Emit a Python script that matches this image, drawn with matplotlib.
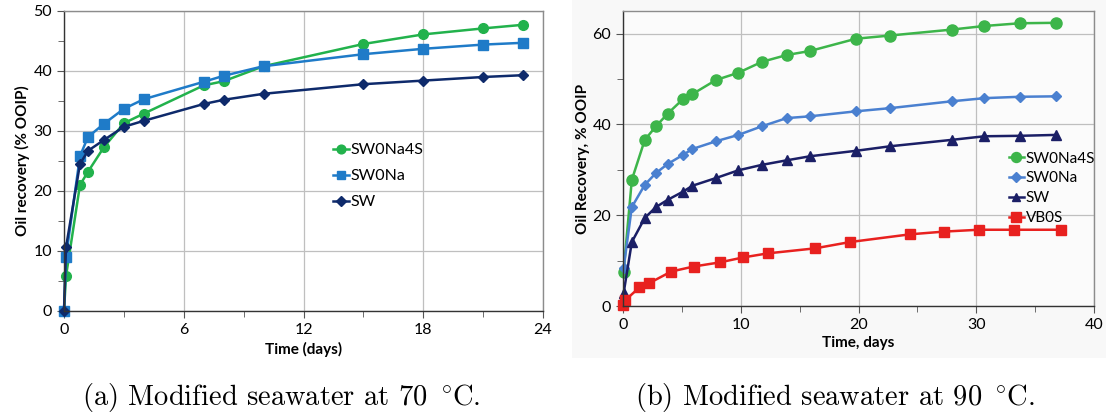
import matplotlib
matplotlib.use("Agg")
import matplotlib.pyplot as plt
from matplotlib.patches import Rectangle
from matplotlib.ticker import MultipleLocator

plt.rcParams['font.family'] = ['Lato', 'DejaVu Sans']
plt.rcParams['mathtext.fontset'] = 'cm'

# (a) 70 C
days_a = [0, 0.1, 0.8, 1.2, 2, 3, 4, 7, 8, 10, 15, 18, 21, 23]
sw0na4s_a = [0, 5.8, 21.0, 23.2, 27.3, 31.3, 32.9, 37.6, 38.3, 40.8, 44.5, 46.1, 47.1, 47.7]
sw0na_a = [0, 9.0, 25.8, 29.0, 31.2, 33.7, 35.3, 38.2, 39.2, 40.8, 42.8, 43.7, 44.4, 44.7]
sw_a = [0, 10.6, 24.5, 26.7, 28.5, 30.7, 31.7, 34.5, 35.2, 36.2, 37.8, 38.4, 39.0, 39.3]

# (b) 90 C
days_b = [0.05, 0.75, 1.85, 2.8, 3.8, 5.1, 5.9, 7.9, 9.8, 11.8, 13.9, 15.9, 19.8, 22.7, 27.9, 30.7, 33.7, 36.8]
sw0na4s_b = [7.6, 27.8, 36.6, 39.6, 42.4, 45.6, 46.7, 49.8, 51.4, 53.8, 55.3, 56.2, 58.9, 59.6, 60.9, 61.7, 62.3, 62.4]
sw0na_b = [8.3, 21.8, 26.7, 29.3, 31.3, 33.3, 34.6, 36.3, 37.7, 39.6, 41.4, 41.8, 42.9, 43.6, 45.1, 45.8, 46.1, 46.2]
sw_b = [2.8, 14.1, 19.4, 21.8, 23.4, 25.2, 26.5, 28.2, 29.9, 31.1, 32.1, 33.0, 34.2, 35.2, 36.6, 37.4, 37.5, 37.7]
days_vb = [0, 0.2, 1.4, 2.2, 4.1, 6.0, 8.2, 10.2, 12.3, 16.3, 19.3, 24.4, 27.3, 30.2, 33.2, 37.2]
vb0s_b = [0.2, 1.3, 4.1, 5.0, 7.6, 8.7, 9.6, 10.7, 11.6, 12.7, 14.1, 15.8, 16.4, 16.8, 16.8, 16.8]

W, H = 1106, 417
fig = plt.figure(figsize=(W / 100, H / 100), dpi=100)
# faint grey backdrop behind the right-hand chart
fig.patches.append(Rectangle((572 / W, 1 - 358 / H), 1 - 572 / W, 358 / H,
                             transform=fig.transFigure, facecolor='#f8f8f8', edgecolor='none', zorder=-5))
ax1 = fig.add_axes([64 / W, (H - 311) / H, (543 - 64) / W, 300 / H])
ax2 = fig.add_axes([623 / W, (H - 306) / H, (1094 - 623) / W, 295 / H])


def style(ax):
    ax.grid(True, which='major', color='#bfbfbf', lw=0.9)
    ax.set_axisbelow(True)
    for s in ('top', 'right'):
        ax.spines[s].set_color('#8c8c8c')
    for s in ('left', 'bottom'):
        ax.spines[s].set_color('#333333')
    for s in ax.spines.values():
        s.set_linewidth(1.0)
    ax.tick_params(which='both', direction='out', color='#555555', labelsize=11.5)
    ax.tick_params(which='major', length=5)
    ax.tick_params(which='minor', length=4)


# left panel
ax1.plot(days_a, sw0na4s_a, '-o', color='#22b24c', ms=7, lw=1.8, label='SW0Na4S', clip_on=False)
ax1.plot(days_a, sw0na_a, '-s', color='#1f7bc8', ms=7, lw=1.8, label='SW0Na', clip_on=False)
ax1.plot(days_a, sw_a, '-D', color='#0e2a6b', ms=5.5, lw=1.8, label='SW', clip_on=False)
ax1.set_xlim(0, 24)
ax1.set_ylim(0, 50)
ax1.xaxis.set_major_locator(MultipleLocator(6))
ax1.xaxis.set_minor_locator(MultipleLocator(3))
ax1.yaxis.set_major_locator(MultipleLocator(10))
ax1.yaxis.set_minor_locator(MultipleLocator(5))
style(ax1)
ax1.set_xlabel('Time (days)', fontsize=11, fontweight='bold', labelpad=4)
ax1.set_ylabel('Oil recovery (% OOIP)', fontsize=11, fontweight='bold', labelpad=2.5)
ax1.legend(loc='upper left', bbox_to_anchor=(0.532, 0.607), frameon=False, fontsize=11.5,
           handlelength=1.0, handletextpad=0.1, labelspacing=0.73, markerscale=0.9)

# right panel
ax2.set_facecolor('#fbfbfb')
ax2.plot(days_b, sw0na4s_b, '-o', color='#3db54a', ms=8, lw=1.8, label='SW0Na4S', clip_on=False)
ax2.plot(days_b, sw0na_b, '-D', color='#4a80d0', ms=5.5, lw=1.8, label='SW0Na', clip_on=False)
ax2.plot(days_b, sw_b, '-^', color='#1b1f66', ms=7, lw=1.8, label='SW', clip_on=False)
ax2.plot(days_vb, vb0s_b, '-s', color='#e8211f', ms=7.5, lw=1.8, label='VB0S', clip_on=False)
ax2.set_xlim(0, 40)
ax2.set_ylim(0, 65)
ax2.xaxis.set_major_locator(MultipleLocator(10))
ax2.xaxis.set_minor_locator(MultipleLocator(5))
ax2.yaxis.set_major_locator(MultipleLocator(20))
ax2.yaxis.set_minor_locator(MultipleLocator(10))
style(ax2)
ax2.set_xlabel('Time, days', fontsize=11, fontweight='bold', labelpad=3)
ax2.set_ylabel('Oil Recovery, % OOIP', fontsize=11, fontweight='bold', labelpad=2)
ax2.legend(loc='upper left', bbox_to_anchor=(0.79, 0.57), frameon=False, fontsize=11,
           handlelength=1.0, handletextpad=0.1, labelspacing=0.38, markerscale=0.9)

fig.text(281 / W, 1 - 398 / H, r'(a) Modified seawater at 70 $^\circ\!$C.', family='cmr10',
         fontsize=20.5, ha='center', va='center')
fig.text(835 / W, 1 - 398 / H, r'(b) Modified seawater at 90 $^\circ\!$C.', family='cmr10',
         fontsize=20.5, ha='center', va='center')

fig.savefig('out.png', dpi=100)
